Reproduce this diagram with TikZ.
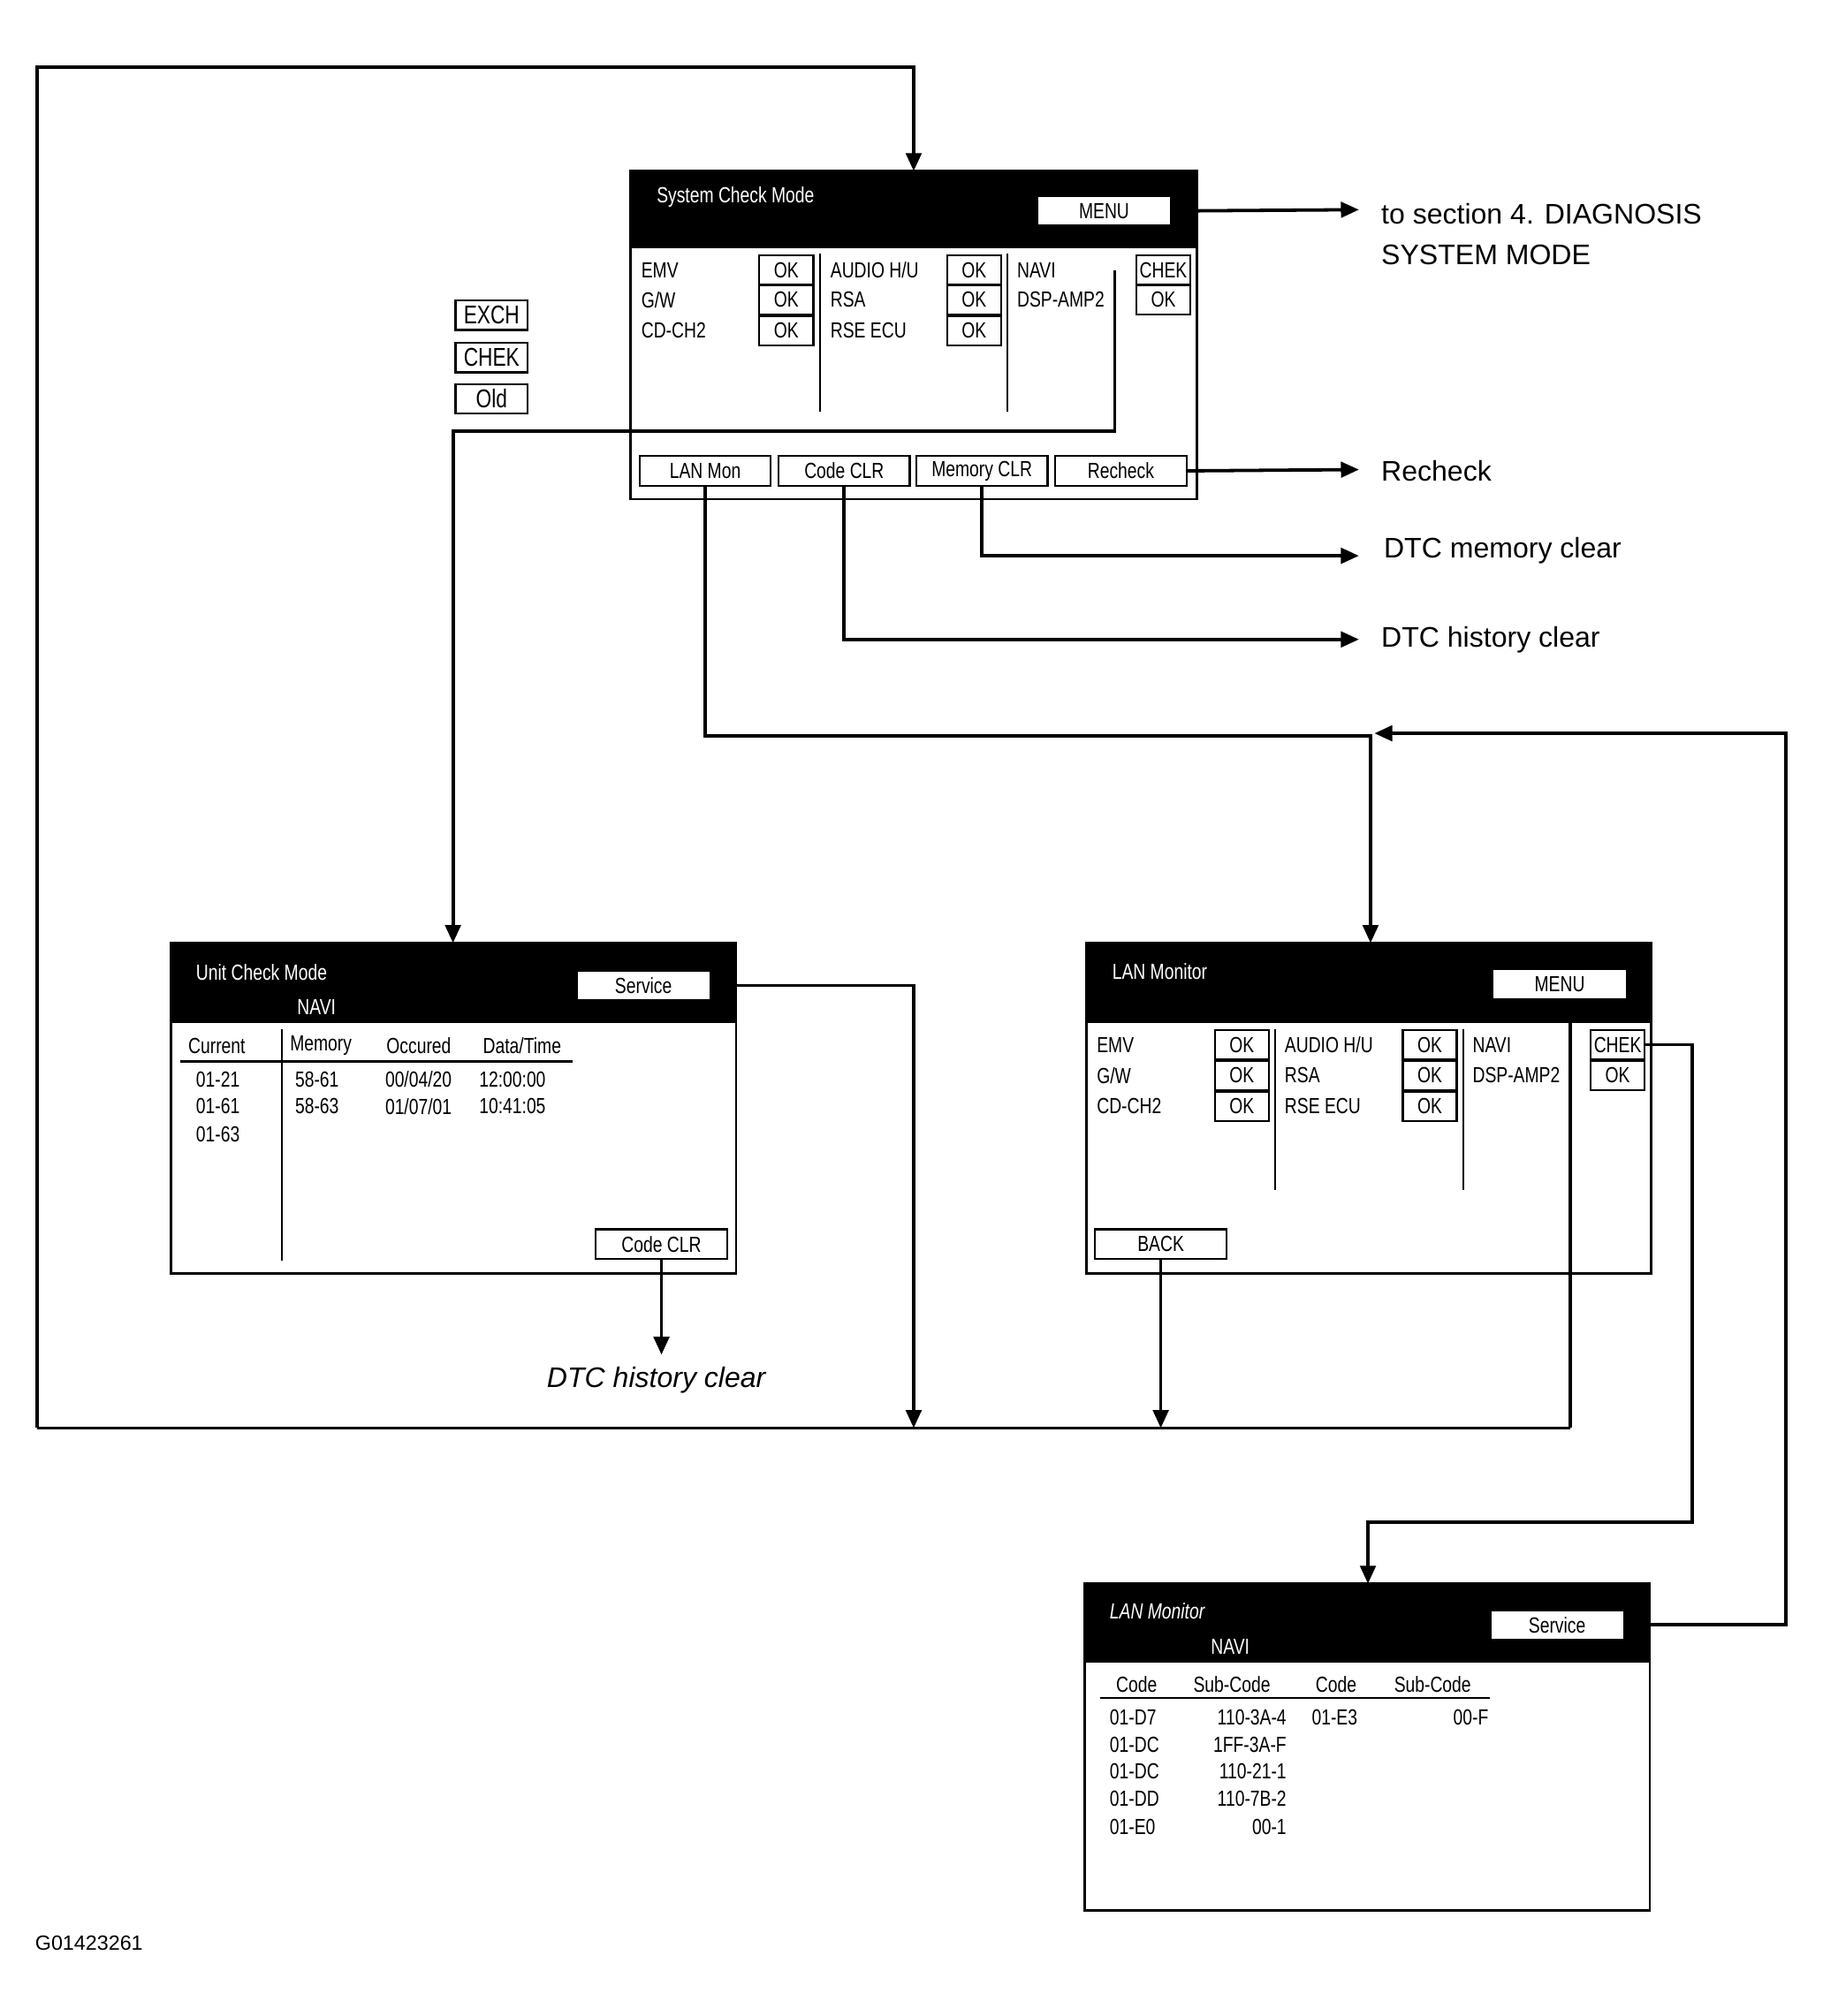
\documentclass[tikz,border=0pt]{standalone}
\usepackage{fontspec}
\setmainfont{Liberation Sans}
\newfontfamily\cond[FakeStretch=0.78]{Liberation Sans}
\usetikzlibrary{arrows.meta}
\begin{document}
\begin{tikzpicture}[x=0.5pt,y=-0.5pt,
 sm/.style={font=\cond\fontsize{8.5}{10}\selectfont,inner sep=0pt},
 lab/.style={sm,anchor=west},
 wlab/.style={sm,anchor=west,text=white},
 big/.style={font=\fontsize{11}{13}\selectfont,anchor=west,inner sep=0pt},
 btn/.style={draw,line width=0.8pt,fill=white,sm,minimum height=11.5pt,inner sep=0pt},
 ok/.style={btn,minimum width=21pt},
 hdr/.style={fill=black},
 frame/.style={draw,line width=1pt},
 ln/.style={line width=1.3pt},
 arr/.style={ln,-{Triangle[length=7pt,width=6pt]}},
 dv/.style={line width=0.8pt}]
\useasboundingbox (0,0) rectangle (1416,1567);
% ---------- System Check Mode box
\draw[frame] (490,133) rectangle (930,388);
\fill[hdr] (490,133) rectangle (930,193);
\node[wlab] (t1) at (510,153) {System Check Mode};
\node[btn,minimum width=52pt] (menu1) at (858,164) {MENU};
\foreach \y/\a/\b/\c in {210/EMV/AUDIO H\slash U/NAVI,233/G\slash W/RSA/DSP-AMP2,257/CD-CH2/RSE ECU/}{
 \node[lab] at (498,\y) {\a}; \node[lab] at (645,\y) {\b}; \node[lab] at (790,\y) {\c};}
\foreach \y in {210,233,257}{\node[ok] at (611,\y) {OK}; \node[ok] at (757,\y) {OK};}
\node[ok] (chek1) at (904,210) {CHEK};
\node[ok] at (904,233) {OK};
\draw[dv] (637,197) -- (637,320); \draw[dv] (783,197) -- (783,320);
\node[btn,minimum width=51pt] (lanmon) at (548,366) {LAN Mon};
\node[btn,minimum width=51pt] (codeclr) at (656,366) {Code CLR};
\node[btn,minimum width=51pt] (memclr) at (763,366) {Memory CLR};
\node[btn,minimum width=51pt] (recheck) at (871,366) {Recheck};
% side keys
\node[btn,minimum width=28pt,font=\cond\fontsize{10}{11}\selectfont] at (382,245) {EXCH};
\node[btn,minimum width=28pt,font=\cond\fontsize{10}{11}\selectfont] at (382,278) {CHEK};
\node[btn,minimum width=28pt,font=\cond\fontsize{10}{11}\selectfont] at (382,310) {Old};
% right labels
\node[big] (l1) at (1073,166) {to section 4. DIAGNOSIS};
\node[big] (l1b) at (1073,198) {SYSTEM MODE};
\node[big] (l2) at (1073,366) {Recheck};
\node[big] (l3) at (1075,428) {DTC memory clear};
\node[big] (l4) at (1073,497) {DTC history clear};
\coordinate (e1) at (1056,163); \coordinate (e2) at (1056,365);
\coordinate (e3) at (1056,432); \coordinate (e4) at (1056,497);
\draw[arr] (menu1.east) -- (e1);
\draw[arr] (recheck.east) -- (e2);
\draw[arr] (memclr.south) |- (e3);
\draw[arr] (codeclr.south) |- (e4);
% ---------- Unit Check Mode
\draw[frame] (133,733) rectangle (572,990);
\fill[hdr] (133,733) rectangle (572,795);
\node[wlab] at (152,756) {Unit Check Mode};
\node[sm,text=white] at (246,783) {NAVI};
\node[btn,minimum width=52pt] (serv1) at (500,766) {Service};
\node[lab] at (146,813) {Current}; \node[lab] at (225,813) {Memory};
\node[lab] at (300,813) {Occured}; \node[lab] at (375,813) {Data/Time};
\draw[dv] (140,825) -- (445,825); \draw[dv] (219,800) -- (219,980);
\node[lab] at (152,839) {01-21}; \node[lab] at (229,839) {58-61}; \node[lab] at (299,839) {00/04/20}; \node[lab] at (372,839) {12:00:00};
\node[lab] at (152,860) {01-61}; \node[lab] at (229,860) {58-63}; \node[lab] at (299,860) {01/07/01}; \node[lab] at (372,860) {10:41:05};
\node[lab] at (152,882) {01-63};
\node[btn,minimum width=51pt] (codeclr2) at (514,967) {Code CLR};
\node[big,anchor=center,font=\fontsize{11}{13}\selectfont\itshape] (l5) at (510,1073) {DTC history clear};
\coordinate (e5) at (514,1053);
\draw[arr] (codeclr2.south) -- (e5);
% ---------- LAN Monitor
\draw[frame] (844,733) rectangle (1283,990);
\fill[hdr] (844,733) rectangle (1283,795);
\node[wlab] at (864,755) {LAN Monitor};
\node[btn,minimum width=52pt] (menu2) at (1212,765) {MENU};
\foreach \y/\a/\b/\c in {812/EMV/AUDIO H\slash U/NAVI,836/G\slash W/RSA/DSP-AMP2,860/CD-CH2/RSE ECU/}{
 \node[lab] at (852,\y) {\a}; \node[lab] at (998,\y) {\b}; \node[lab] at (1144,\y) {\c};}
\foreach \y in {812,836,860}{\node[ok] at (965,\y) {OK}; \node[ok] at (1111,\y) {OK};}
\node[ok] (chek2) at (1257,812) {CHEK};
\node[ok] at (1257,836) {OK};
\draw[dv] (991,800) -- (991,925); \draw[dv] (1137,800) -- (1137,925);
\node[btn,minimum width=51pt] (back) at (902,967) {BACK};
% ---------- LAN Monitor NAVI
\draw[frame] (843,1231) rectangle (1282,1485);
\fill[hdr] (843,1231) rectangle (1282,1292);
\node[wlab,font=\cond\itshape\fontsize{8.5}{10}\selectfont] at (862,1252) {LAN Monitor};
\node[sm,text=white] at (956,1280) {NAVI};
\node[btn,minimum width=52pt] (serv2) at (1210,1263) {Service};
\node[lab] at (867,1309) {Code}; \node[lab] at (927,1309) {Sub-Code};
\node[lab] at (1022,1309) {Code}; \node[lab] at (1083,1309) {Sub-Code};
\draw[dv] (855,1320) -- (1158,1320);
\foreach \y/\a/\b in {1335/01-D7/110-3A-4,1356/01-DC/1FF-3A-F,1377/01-DC/110-21-1,1398/01-DD/110-7B-2,1420/01-E0/00-1}{
 \node[lab] at (862,\y) {\a}; \node[sm,anchor=east] at (1000,\y) {\b};}
\node[lab] at (1019,1335) {01-E3}; \node[sm,anchor=east] at (1157,1335) {00-F};
% ---------- connectors
\coordinate (bl) at (29,1110);
\coordinate (tl) at (29,52);
\coordinate (s1) at (710,1110);
\coordinate (b1) at (902,1110);
\coordinate (m2) at (1220,1110);
\draw[ln] (bl) -- (m2);
\draw[arr] (bl) -- (tl) -| (710,133);
\draw[arr] (serv1.east) -| (s1);
\draw[arr] (back.south) -- (b1);
\draw[ln] (1220,776) -- (m2);
\draw[arr] (chek1.west) ++(-16,0) |- (352,335) -- (352,733);
\draw[arr] (lanmon.south) |- (1065,572) -- (1065,733);
\draw[arr] (serv2.east) -| (1388,570) -- (1068,570);
\draw[arr] (chek2.east) -| (1315,1183) -| (1063,1231);
\node[font=\fontsize{8}{10}\selectfont,anchor=west,inner sep=0pt] (id) at (27,1510) {G01423261};
\end{tikzpicture}
\end{document}
